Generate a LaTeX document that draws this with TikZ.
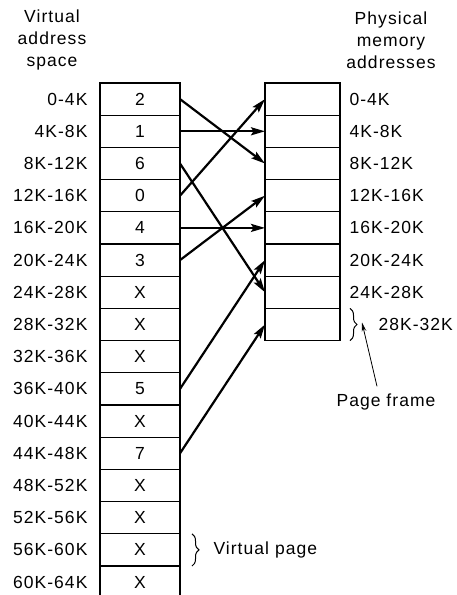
\documentclass[tikz,border=0pt]{standalone}
\usepackage{fontspec}
\setmainfont{Liberation Sans}[LetterSpace=6]
\usetikzlibrary{arrows.meta,decorations.pathreplacing}

\tikzset{
  addr/.style={font=\fontsize{17.5}{22}\selectfont},
  vpage/.style={draw,line width=1.3pt,minimum width=80pt,minimum height=32.2pt,inner sep=0pt,outer sep=0pt,addr},
  pframe/.style={vpage,minimum width=75pt},
  map/.style={-{Stealth[length=14pt,width=8pt,inset=2.5pt]},line width=2.2pt},
  curly/.style={decorate,decoration={brace,amplitude=7pt},line width=1pt},
}

\begin{document}
\begin{tikzpicture}[x=1pt,y=-1pt]
  \useasboundingbox (0,0) rectangle (456,595);
  % headings
  \node[addr,align=center] (vhead) at (52,40) {Virtual\\address\\space};
  \node[addr,align=center] (phead) at (391,40) {Physical\\memory\\addresses};
  % virtual pages
  \foreach \val [count=\i from 0] in {2,1,6,0,4,3,X,X,X,5,X,7,X,X,X,X}
    \node[vpage] (v\i) at (140,99.1+32.2*\i) {\val};
  \foreach \lbl [count=\i from 0] in {0-4K,4K-8K,8K-12K,12K-16K,16K-20K,20K-24K,24K-28K,28K-32K,32K-36K,36K-40K,40K-44K,44K-48K,48K-52K,52K-56K,56K-60K,60K-64K}
    \node[addr,anchor=east] (vl\i) at (91,99.1+32.2*\i) {\lbl};
  % page frames
  \foreach \i in {0,...,7}
    \node[pframe] (p\i) at (302.5,99.1+32.2*\i) {};
  \foreach \lbl [count=\i from 0] in {0-4K,4K-8K,8K-12K,12K-16K,16K-20K,20K-24K,24K-28K}
    \node[addr,anchor=west] (pl\i) at (346,99.1+32.2*\i) {\lbl};
  \node[addr,anchor=west] (pl7) at (375,99.1+32.2*7) {28K-32K};
  % mapping
  \draw[map] (v0.east) -- (p2.west);
  \draw[map] (v1.east) -- (p1.west);
  \draw[map] (v2.east) -- (p6.west);
  \draw[map] (v3.east) -- (p0.west);
  \draw[map] (v4.east) -- (p4.west);
  \draw[map] (v5.east) -- (p3.west);
  \draw[map] (v9.east) -- (p5.west);
  \draw[map] (v11.east) -- (p7.west);
  % braces
  \draw[curly] ([xshift=10pt]p7.north east) -- ([xshift=10pt]p7.south east);
  \node[addr] (pf) at (386,402) {Page frame};
  \draw[line width=0.8pt,-{Stealth[length=9pt,width=4.5pt]}] ([xshift=-9pt,yshift=4pt]pf.north) -- ([xshift=22pt,yshift=2pt]p7.east);
  \draw[curly] ([xshift=12pt]v14.north east) -- ([xshift=12pt]v14.south east);
  \node[addr,anchor=west] (vp) at (210,549.9) {Virtual page};
\end{tikzpicture}
\end{document}
